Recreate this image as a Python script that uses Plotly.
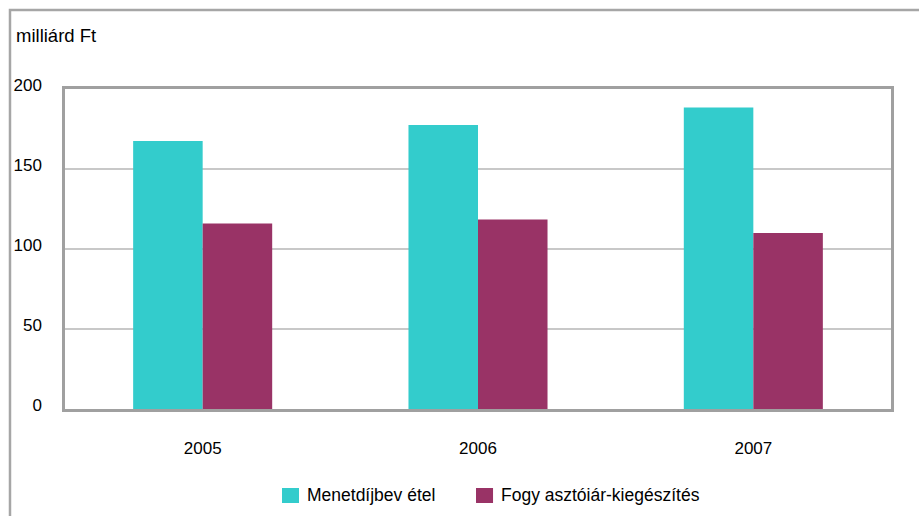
import plotly.graph_objects as go

years = ["2005", "2006", "2007"]
menetdij = [167.5, 177.5, 188.5]
fogyasztoi = [116, 118.5, 110]
series_names = ["Menetdíjbev étel", "Fogy asztóiár-kiegészítés"]
series_colors = ["#33CCCC", "#993366"]
y_ticks = [0, 50, 100, 150, 200]

fig = go.Figure()
for name, vals, col in zip(series_names, [menetdij, fogyasztoi], series_colors):
    fig.add_trace(go.Bar(x=years, y=vals, name=name, showlegend=False,
                         marker=dict(color=col, line=dict(width=0))))

# outer frame of the original chart (runs off the right/bottom edge)
fig.add_shape(type="rect", xref="paper", yref="paper",
              x0=-0.0666, x1=1.3, y0=-0.6, y1=1.2469,
              line=dict(color="#A6A6A6", width=2.5), layer="below")

fig.add_annotation(text="milliárd Ft", xref="paper", yref="paper",
                   x=-0.0618, y=1.166, xanchor="left", yanchor="middle",
                   showarrow=False, font=dict(size=18.5, color="#000000"))

# legend drawn by hand so the swatches can match the original size
legend_x = [0.2627, 0.4976]
for lx, name, col in zip(legend_x, series_names, series_colors):
    fig.add_shape(type="rect", xref="paper", yref="paper",
                  x0=lx, x1=lx + 0.0206, y0=-0.2937, y1=-0.2469,
                  fillcolor=col, line=dict(width=0))
    fig.add_annotation(text=name, xref="paper", yref="paper",
                       x=lx + 0.028, y=-0.2703, xanchor="left", yanchor="middle",
                       showarrow=False, font=dict(size=17.5, color="#000000"))

fig.update_layout(
    width=919, height=516,
    margin=dict(l=65, r=28, t=89, b=107, autoexpand=False),
    plot_bgcolor="white", paper_bgcolor="white",
    font=dict(family="Liberation Sans, Arial, sans-serif", size=17, color="#000000"),
    barmode="group", bargap=0.495, bargroupgap=0,
    showlegend=False,
)
fig.update_xaxes(showline=True, mirror=True, linecolor="#A0A0A0", linewidth=2.5,
                 ticks="", ticklabelstandoff=22, showgrid=False, automargin=False)
fig.update_yaxes(range=[0, 200], tickvals=y_ticks, showline=True, mirror=True,
                 linecolor="#A0A0A0", linewidth=2.5, gridcolor="#C8C8C8", gridwidth=2,
                 zeroline=False, ticks="", ticklabelstandoff=17, ticklabelshift=-4,
                 automargin=False)

fig.write_html("out.html", config={"displayModeBar": False},
               post_script="document.body.style.margin='0';")
